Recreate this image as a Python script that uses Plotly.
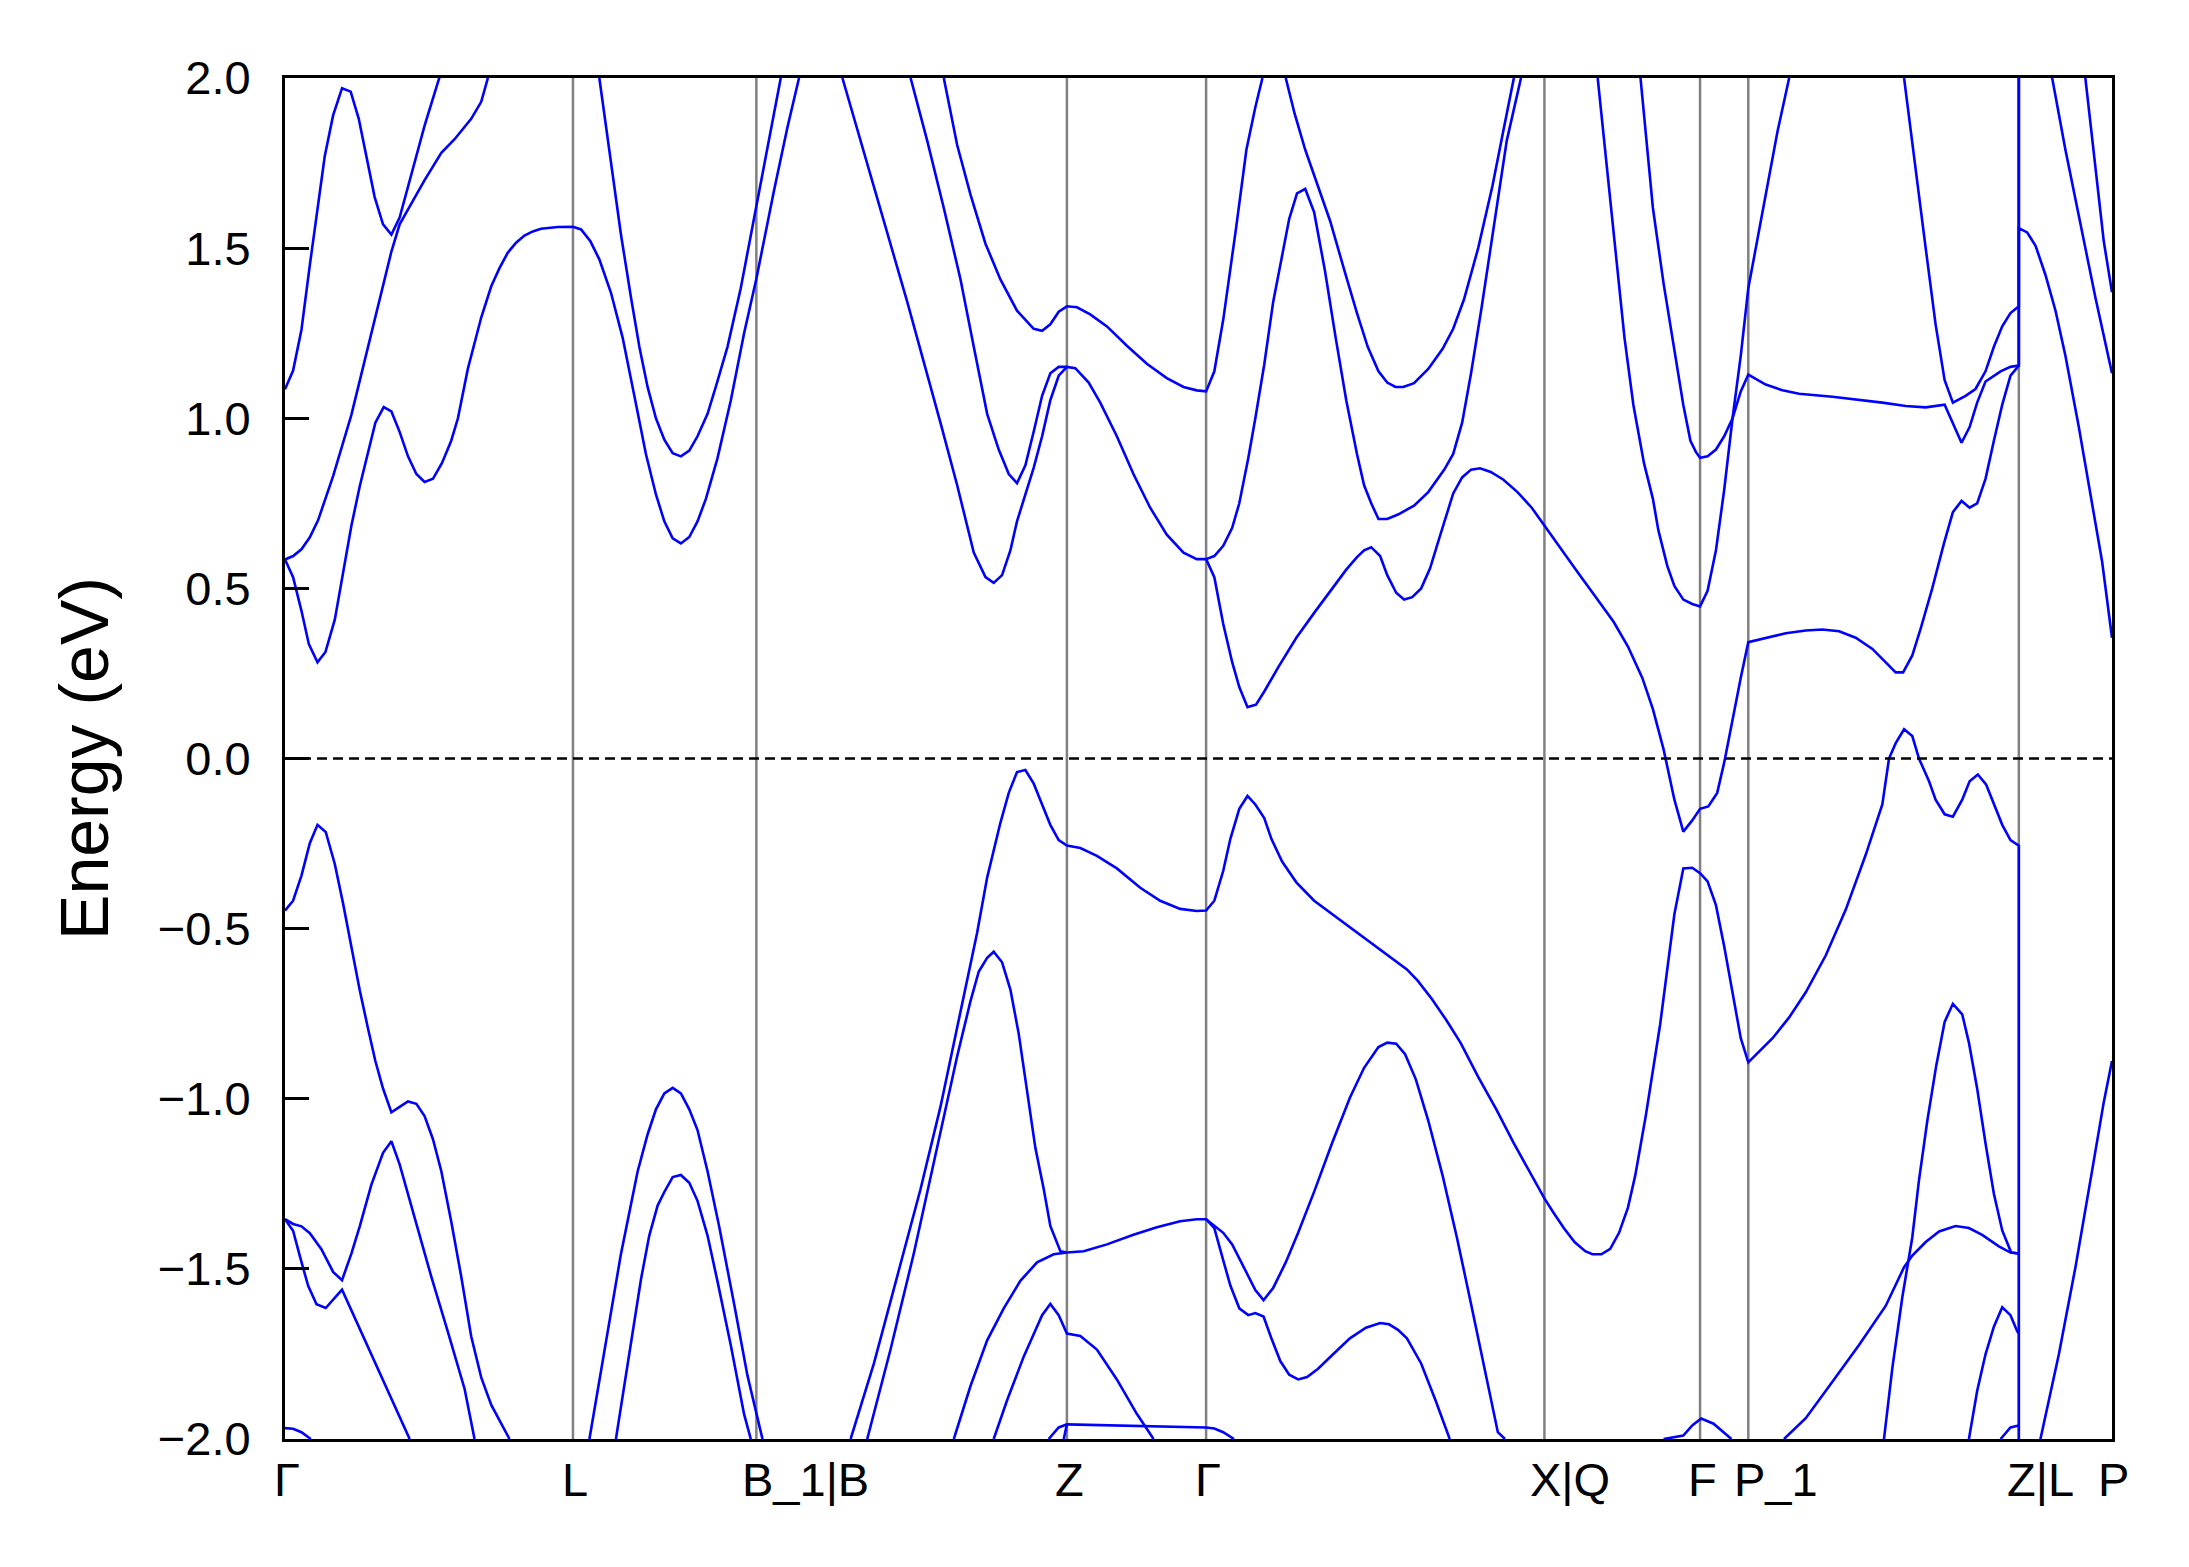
import plotly.graph_objects as go

# high-symmetry points along the k-path
tick_k = [0.0, 0.2065, 0.338, 0.5607, 0.6605, 0.9031, 1.0147, 1.0493, 1.2433, 1.3101]
tick_labels = ["Γ", "L", "B_1|B", "Z", "Γ", "X|Q", "F", "P_1", "Z|L", "P"]

# ---- conduction bands (k, E) ----
cA_k = [0, .0058, .0118, .0178, .0285, .0345, .0409, .0471, .0529, .0643, .0703, .0763, .0822, .0894, .1001, .1121]
cA_e = [1.085, 1.14, 1.26, 1.45, 1.77, 1.89, 1.97, 1.96, 1.88, 1.65, 1.57, 1.54, 1.59, 1.70, 1.86, 2.02]

cB_k = [0, .0058, .0118, .0178, .0237, .0345, .0476, .0596, .0763, .0822, .1001, .1121, .1216, .1335, .1407, .1455]
cB_e = [.585, .595, .615, .65, .70, .83, 1.01, 1.21, 1.49, 1.57, 1.70, 1.78, 1.82, 1.88, 1.93, 2.0]

cC_k = [0, .0058, .0118, .0171, .0233, .029, .0357, .0416, .0476, .0536, .0596, .0648, .0708, .0763, .0822,
        .0882, .0942, .1001, .1061, .1125, .1192, .124, .1311, .1407, .1479, .1538, .1598, .1657, .1717, .1777,
        .1836, .1956, .2065, .2123, .219, .2254, .2338, .2421, .2505, .2588, .266, .272, .278, .2839, .2899,
        .2958, .3018, .3101, .3197, .3292, .338, .3507, .3603, .3686]
cC_e = [.585, .533, .434, .336, .283, .313, .408, .539, .684, .80, .90, .987, 1.033, 1.02, .96,
        .888, .836, .813, .822, .868, .934, 1.0, 1.145, 1.296, 1.388, 1.441, 1.487, 1.516, 1.537, 1.549,
        1.557, 1.562, 1.563, 1.555, 1.52, 1.467, 1.368, 1.237, 1.066, .895, .776, .697, .647, .632, .651,
        .697, .763, .882, 1.053, 1.25, 1.41, 1.67, 1.855, 2.0]

cD_k = [.2254, .229, .235, .2409, .2481, .2541, .26, .266, .272, .278, .2839, .2899, .2958, .303, .3089, .3173,
        .3268, .338, .346, .3555]
cD_e = [2.0, 1.895, 1.71, 1.54, 1.355, 1.21, 1.092, 1.0, .937, .897, .888, .905, .947, 1.013, 1.092, 1.21,
        1.382, 1.62, 1.80, 2.0]

# lowest conduction band from B towards P
cE_k = [.3997, .4223, .4462, .47, .482, .4939, .5023, .5082, .5142, .5202, .5249, .5369, .5429, .5488, .5548,
        .5607, .5667, .5763, .5846, .5965, .6084, .6204, .6323, .6443, .6538, .6605,
        .6664, .6728, .6792, .6843, .6902, .6963, .7022, .7125, .7252, .738, .7508, .761, .7687, .7738, .7789,
        .7853, .7904, .7968, .8025, .8083, .8147, .8211, .8275, .8326, .8377, .8441, .8505, .8569, .8646, .8735,
        .8838, .894, .9031, .9145, .9272, .94, .9528, .963, .9733, .9809, .9886, .9963, 1.0027, 1.0091, 1.0147,
        1.0206, 1.027, 1.0321, 1.038, 1.0439, 1.0493, 1.0618, 1.0762, 1.0905, 1.1024, 1.1144, 1.1263, 1.1383,
        1.1466, 1.155, 1.1603, 1.1669, 1.1729, 1.1812, 1.1896, 1.196, 1.2022, 1.208, 1.2134, 1.2194, 1.2254,
        1.2314, 1.2373, 1.2433, 1.2433, 1.2493, 1.2553, 1.2624, 1.2696, 1.2767, 1.2863, 1.2958, 1.303, 1.3101]
cE_e = [2.0, 1.684, 1.342, .987, .803, .605, .533, .516, .539, .612, .697, .855, .947, 1.053, 1.125,
        1.151, 1.147, 1.105, 1.046, .947, .836, .737, .658, .605, .586, .586,
        .533, .395, .283, .21, .151, .158, .197, .27, .355, .428, .50, .555, .592, .612, .621,
        .595, .539, .487, .467, .474, .50, .559, .645, .711, .779, .826, .849, .853, .842, .82,
        .783, .737, .684, .618, .546, .474, .401, .329, .237, .145, .026, -.121, -.215, -.182, -.148,
        -.141, -.101, -.01, .118, .237, .342, .355, .368, .376, .379, .374, .355, .322,
        .289, .253, .253, .303, .382, .50, .632, .724, .757, .737, .75, .822, .934,
        1.04, 1.125, 1.155, 1.559, 1.546, 1.507, 1.421, 1.316, 1.184, .974, .75, .579, .355]

cF_k = [.4486, .4605, .4724, .4844, .4939, .5035, .5118, .519, .5249, .5309, .5369, .5429, .5488, .5548, .5607]
cF_e = [2.0, 1.816, 1.618, 1.408, 1.21, 1.013, .908, .836, .809, .862, .961, 1.066, 1.132, 1.151, 1.151]

cG_k = [.4724, .482, .4915, .5023, .513, .5249, .5369, .5429, .5488, .5548, .5607, .5679, .5774, .5894, .6037,
        .618, .6323, .6443, .6538, .6605, .6664, .6728, .6818, .6894, .6958, .7009]
cG_e = [2.0, 1.803, 1.658, 1.513, 1.408, 1.316, 1.263, 1.257, 1.276, 1.313, 1.329, 1.326, 1.305, 1.27, 1.213,
        1.16, 1.118, 1.092, 1.082, 1.079, 1.138, 1.29, 1.553, 1.789, 1.914, 2.0]

cI_k = [.7176, .724, .7316, .7431, .7495, .7597, .7687, .7764, .7841, .7904, .7963, .8019, .8096, .8198, .8301,
        .8377, .8454, .8556, .8659, .8735, .8812]
cI_e = [2.0, 1.895, 1.789, 1.658, 1.579, 1.434, 1.309, 1.21, 1.138, 1.105, 1.092, 1.092, 1.103, 1.145, 1.204,
        1.263, 1.349, 1.50, 1.684, 1.842, 2.0]

cJ_k = [.6605, .6664, .6728, .6792, .6843, .6907, .6958, .7022, .7086, .715, .7201, .7257, .7316, .738, .7457,
        .7534, .761, .7687, .7738, .7789, .7841, .7904, .7981, .8096, .8198, .8313, .8377, .8441, .8505, .8582,
        .8659, .8761, .8863]
cJ_e = [.586, .595, .625, .678, .75, .882, 1.0, 1.158, 1.342, 1.474, 1.586, 1.661, 1.674, 1.605, 1.434,
        1.237, 1.053, .895, .803, .75, .704, .704, .717, .743, .783, .849, .895, .987, 1.132, 1.329,
        1.539, 1.816, 2.0]

cL_k = [.9413, .9477, .9541, .9605, .9669, .9745, .9809, .9848, .9912, .9963, 1.0027, 1.0091, 1.0147, 1.0201,
        1.0261, 1.032, 1.038, 1.0439, 1.0493, 1.0559, 1.0618, 1.0702, 1.0786]
cL_e = [2.0, 1.75, 1.50, 1.237, 1.039, .868, .763, .671, .566, .507, .467, .454, .447, .493,
        .612, .789, 1.0, 1.184, 1.382, 1.526, 1.658, 1.842, 2.0]

cM_k = [.972, .9809, .9886, .9963, 1.0027, 1.0078, 1.0117, 1.0147, 1.0201, 1.0261, 1.032, 1.038, 1.0439, 1.0493,
        1.0618, 1.0738, 1.0857, 1.1096, 1.1287, 1.1454, 1.1622, 1.1765, 1.1901, 1.2022, 1.208, 1.2134, 1.2194,
        1.2302, 1.2373, 1.2433, 1.2433, 1.2672, 1.2767, 1.2863, 1.2982, 1.3101]
cM_e = [2.0, 1.618, 1.395, 1.197, 1.039, .934, .901, .884, .888, .908, .947, 1.0, 1.079, 1.128,
        1.099, 1.082, 1.072, 1.063, 1.055, 1.046, 1.036, 1.032, 1.04, .928, .974, 1.046, 1.108,
        1.138, 1.151, 1.155, 2.48, 2.0, 1.789, 1.592, 1.355, 1.132]

cN_k = [1.161, 1.1693, 1.1765, 1.1836, 1.1901, 1.196, 1.2051, 1.2122, 1.2194, 1.2254, 1.2314, 1.2373, 1.2433,
        1.2433, 1.291, 1.3042, 1.3101]
cN_e = [2.0, 1.724, 1.50, 1.276, 1.112, 1.046, 1.066, 1.086, 1.138, 1.21, 1.27, 1.309, 1.329,
        3.57, 2.0, 1.52, 1.37]

# ---- valence bands (k, E) ----
v1_k = [0, .0058, .0118, .0178, .0233, .0292, .0357, .0416, .0476, .0536, .0596, .0648, .0703, .0763, .0822,
        .0882, .0942, .1001, .1061, .1121, .1192, .1264, .1335, .1407, .1479, .155, .161]
v1_e = [-.447, -.418, -.344, -.249, -.195, -.216, -.31, -.425, -.553, -.681, -.795, -.889, -.97, -1.04, -1.024,
        -1.008, -1.015, -1.051, -1.119, -1.213, -1.361, -1.523, -1.698, -1.819, -1.9, -1.954, -2.0]

v2a_k = [0, .0058, .0106, .0166, .0226, .0292, .0409, .0524, .0643, .0763, .0894]
v2a_e = [-1.354, -1.388, -1.462, -1.55, -1.604, -1.615, -1.561, -1.664, -1.772, -1.88, -2.0]

v2b_k = [0, .0058, .0118, .0178, .0261, .0345, .0409, .0476, .0536, .0619, .0703, .0763, .0822, .093, .1049,
         .1168, .1288, .1359]
v2b_e = [-1.354, -1.368, -1.375, -1.395, -1.442, -1.509, -1.533, -1.455, -1.375, -1.253, -1.159, -1.125, -1.193,
         -1.348, -1.523, -1.685, -1.853, -2.0]

v3_k = [0, .0058, .0118, .0185]
v3_e = [-1.968, -1.97, -1.98, -2.0]

v4_k = [.2183, .229, .2409, .2529, .26, .266, .272, .278, .2839, .2899, .2958, .303, .3113, .3221, .3316, .3424]
v4_e = [-2.0, -1.739, -1.456, -1.213, -1.105, -1.031, -.984, -.968, -.984, -1.031, -1.092, -1.213, -1.375,
        -1.604, -1.813, -2.0]

v5_k = [.2373, .2481, .2553, .2612, .2672, .272, .278, .2839, .2899, .2958, .303, .3101, .3197, .3292, .334]
v5_e = [-2.0, -1.712, -1.53, -1.402, -1.314, -1.274, -1.23, -1.224, -1.247, -1.30, -1.402, -1.536, -1.725,
        -1.927, -2.0]

# top valence band from B towards P
v6_k = [.4056, .4223, .439, .4557, .47, .4844, .4963, .5035, .513, .519, .5249, .5309, .5369, .5429, .5488,
        .5548, .5607, .5703, .5822, .5965, .6133, .6276, .6419, .6538, .6605, .6664, .6728, .6779, .6843, .6902,
        .6958, .7022, .7073, .715, .7252, .738, .7534, .7687, .7841, .7956, .8045, .8122, .8224, .8326, .8429,
        .8556, .8684, .8812, .894, .9031, .9093, .917, .9247, .9324, .9375, .9439, .9503, .9566, .963, .9682,
        .9758, .9861, .9963, 1.0027, 1.0091, 1.0147, 1.0201, 1.0261, 1.032, 1.038, 1.0439, 1.0493, 1.0571,
        1.0667, 1.0786, 1.0905, 1.1048, 1.1192, 1.1335, 1.1454, 1.1502, 1.155, 1.161, 1.1669, 1.1717, 1.1789,
        1.1836, 1.1901, 1.196, 1.2027, 1.208, 1.2139, 1.2199, 1.2254, 1.2314, 1.2373, 1.2433, 1.2433, 1.2588,
        1.272, 1.2839, 1.2958, 1.3042, 1.3101]
v6_e = [-2.0, -1.778, -1.522, -1.266, -1.024, -.741, -.512, -.35, -.189, -.101, -.04, -.034, -.074, -.135, -.195,
        -.24, -.256, -.263, -.286, -.323, -.38, -.418, -.442, -.448, -.447, -.418, -.33, -.236, -.148, -.11,
        -.135, -.175, -.236, -.303, -.364, -.418, -.465, -.512, -.559, -.593, -.62, -.653, -.707, -.768, -.835,
        -.936, -1.03, -1.131, -1.226, -1.293, -1.333, -1.38, -1.421, -1.448, -1.457, -1.457, -1.441, -1.394,
        -1.32, -1.226, -1.05, -.781, -.458, -.323, -.321, -.337, -.361, -.431, -.552, -.694, -.822, -.893, -.862,
        -.822, -.761, -.687, -.579, -.444, -.283, -.135, 0.0, .045, .086, .066, 0.0, -.067,
        -.121, -.164, -.171, -.121, -.067, -.047, -.077, -.135, -.195, -.24, -.256, -2.34, -2.0,
        -1.751, -1.495, -1.212, -1.01, -.889]

v7_k = [.4175, .4342, .4509, .4676, .482, .4915, .4975, .5035, .5082, .5142, .5202, .5261, .5321, .5381, .5441,
        .5488, .556, .5607, .5727, .5894, .6084, .6252, .6419, .6538, .6605, .6664, .6728, .6792, .6869, .6958,
        .7017, .7086, .7176, .7265, .738, .7508, .7636, .7738, .7841, .7904, .7968, .8032, .8109, .8198, .8301,
        .8403, .8505, .8607, .8697, .8748]
v7_e = [-2.0, -1.737, -1.455, -1.145, -.875, -.714, -.626, -.586, -.568, -.599, -.68, -.808, -.97, -1.145, -1.266,
        -1.374, -1.448, -1.452, -1.448, -1.428, -1.40, -1.378, -1.36, -1.354, -1.354, -1.374, -1.394, -1.428,
        -1.488, -1.562, -1.592, -1.556, -1.481, -1.394, -1.273, -1.131, -.997, -.909, -.848, -.835, -.838, -.869,
        -.943, -1.064, -1.226, -1.407, -1.603, -1.805, -1.98, -2.0]

v8_k = [.4796, .4915, .5035, .5154, .5273, .5393, .5512, .5607]
v8_e = [-2.0, -1.845, -1.71, -1.616, -1.535, -1.481, -1.457, -1.452]

v9_k = [.5082, .5178, .5297, .5429, .5488, .5548, .5607, .5703, .5822, .5965, .6108, .6228]
v9_e = [-2.0, -1.886, -1.758, -1.636, -1.603, -1.636, -1.69, -1.697, -1.737, -1.825, -1.926, -2.0]

v10_k = [.5476, .5548, .5607, .5894, .6133, .6371, .6605, .6664, .6728, .6805]
v10_e = [-2.0, -1.966, -1.957, -1.96, -1.962, -1.964, -1.966, -1.969, -1.98, -2.0]

v11_k = [.5584, .5607]
v11_e = [-2.0, -1.957]

v12_k = [.6605, .6664, .6728, .6779, .6843, .6907, .6958, .7017, .7073, .7137, .7201, .7265, .7329, .7406,
         .7508, .7636, .7751, .7853, .7917, .7981, .8045, .8147, .825, .8352]
v12_e = [-1.354, -1.38, -1.475, -1.549, -1.616, -1.636, -1.63, -1.64, -1.704, -1.771, -1.811, -1.825, -1.818,
         -1.794, -1.754, -1.704, -1.673, -1.659, -1.663, -1.679, -1.704, -1.778, -1.886, -2.0]

v13_k = [.9886, 1.0027, 1.0091, 1.0155, 1.0244, 1.0372]
v13_e = [-2.0, -1.99, -1.96, -1.94, -1.955, -2.0]

v14_k = [1.1466, 1.1526, 1.1598, 1.1669, 1.1717, 1.1777, 1.1841, 1.1901, 1.196, 1.2027, 1.2075, 1.2134, 1.2194,
         1.2254, 1.2314, 1.2378, 1.2433]
v14_e = [-2.0, -1.791, -1.582, -1.407, -1.239, -1.064, -.902, -.774, -.721, -.752, -.835, -.97, -1.131,
         -1.279, -1.387, -1.452, -1.455]

v15_k = [1.0749, 1.0905, 1.1096, 1.1287, 1.1478, 1.161, 1.1669, 1.1765, 1.1861, 1.1979, 1.2075, 1.217, 1.229,
         1.2373, 1.2433]
v15_e = [-2.0, -1.939, -1.832, -1.724, -1.609, -1.495, -1.461, -1.421, -1.39, -1.374, -1.38, -1.40, -1.434,
         -1.452, -1.455]

v16_k = [1.2075, 1.2134, 1.2194, 1.2254, 1.2314, 1.2373, 1.2421, 1.2433]
v16_e = [-2.0, -1.859, -1.751, -1.67, -1.613, -1.636, -1.683, -1.69]

v17_k = [1.2302, 1.2373, 1.2433]
v17_e = [-2.0, -1.966, -1.96]

bands = [
    (cA_k, cA_e), (cB_k, cB_e), (cC_k, cC_e), (cD_k, cD_e), (cE_k, cE_e), (cF_k, cF_e),
    (cG_k, cG_e), (cI_k, cI_e), (cJ_k, cJ_e), (cL_k, cL_e), (cM_k, cM_e), (cN_k, cN_e),
    (v1_k, v1_e), (v2a_k, v2a_e), (v2b_k, v2b_e), (v3_k, v3_e), (v4_k, v4_e), (v5_k, v5_e),
    (v6_k, v6_e), (v7_k, v7_e), (v8_k, v8_e), (v9_k, v9_e), (v10_k, v10_e), (v11_k, v11_e),
    (v12_k, v12_e), (v13_k, v13_e), (v14_k, v14_e), (v15_k, v15_e), (v16_k, v16_e), (v17_k, v17_e),
]

FONT = "Liberation Sans, Arial, Helvetica, sans-serif"
LABEL_SIZE = 47

fig = go.Figure()

for k, e in bands:
    fig.add_trace(go.Scatter(
        x=k, y=e, mode="lines",
        line=dict(color="blue", width=2.6),
        showlegend=False, hoverinfo="skip",
    ))

# vertical lines at the high-symmetry points
for kx in tick_k[1:-1]:
    fig.add_shape(type="line", xref="x", yref="paper", x0=kx, x1=kx, y0=0, y1=1,
                  line=dict(color="gray", width=2.5), layer="below")

# Fermi level
fig.add_shape(type="line", xref="paper", yref="y", x0=0, x1=1, y0=0, y1=0,
              line=dict(color="black", width=2.5, dash="10px,6px"))

# k-point labels: the first letter sits on the tick, as in the original figure
half_first = {"Γ": 13, "L": 13, "B": 16, "Z": 14, "X": 16, "F": 14, "P": 16}
for kx, lab in zip(tick_k, tick_labels):
    fig.add_annotation(
        x=kx, xref="x", y=0, yref="paper", text=lab, showarrow=False,
        xanchor="left", yanchor="top", xshift=-half_first[lab[0]], yshift=-12,
        font=dict(family=FONT, size=LABEL_SIZE, color="black"),
    )

fig.update_layout(
    width=2173, height=1551, autosize=False,
    margin=dict(l=277, r=69, t=70, b=120),
    paper_bgcolor="white", plot_bgcolor="white",
    font=dict(family=FONT, color="black", size=LABEL_SIZE),
)
fig.update_xaxes(
    range=[0, tick_k[-1]], showticklabels=False,
    showgrid=False, zeroline=False, showline=True, mirror=True, automargin=False,
    linecolor="black", linewidth=3, ticks="",
)
fig.update_yaxes(
    range=[-2, 2], tickmode="linear", tick0=-2, dtick=0.5, tickformat=".1f",
    showgrid=False, zeroline=False, showline=True, mirror=True, automargin=False,
    linecolor="black", linewidth=3, ticks="inside", ticklen=24, tickwidth=3, tickcolor="black",
    ticklabelstandoff=22,
    tickfont=dict(family=FONT, size=LABEL_SIZE, color="black"),
    title=dict(text="Energy (eV)", font=dict(family=FONT, size=68, color="black"), standoff=28),
)

fig.write_html("out.html")
